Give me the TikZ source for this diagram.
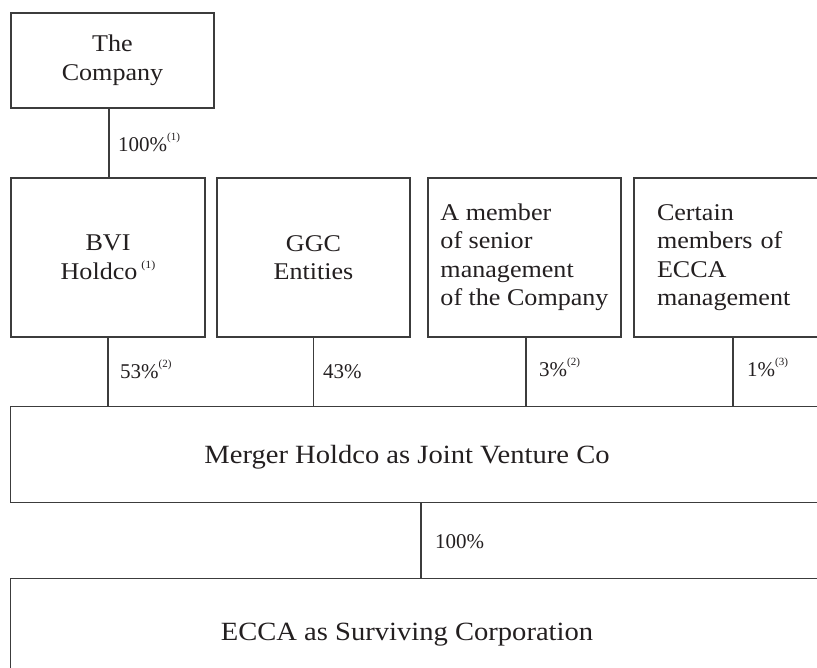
\documentclass[tikz,border=0pt]{standalone}
\usepackage{fontspec}
\setmainfont{Liberation Serif}
\newfontfamily\boxface{Liberation Serif}[FakeStretch=1.087]
\definecolor{ink}{HTML}{231F20}
\definecolor{rulec}{HTML}{3C3C3C}
\newcommand\mainfs{\boxface\fontsize{24}{28.5}\selectfont}
\newcommand\bigfs{\boxface\fontsize{26.3}{30}\selectfont}
\newcommand\pctfs{\fontsize{21}{25}\selectfont}
\newcommand\supnote[1]{\raisebox{11pt}{\fontsize{11}{11}\selectfont(#1)}}
\begin{document}
\begin{tikzpicture}[x=1pt,y=-1pt,
  box/.style={draw=rulec, line width=1.2pt, inner sep=0pt, text=ink, font=\mainfs, align=center},
  boxtext/.style={inner sep=0pt, text=ink, font=\bigfs, align=center},
  pct/.style={anchor=base west, inner sep=0pt, text=ink, font=\pctfs},
  link/.style={draw=rulec, line width=1.2pt}]
\path[use as bounding box, clip] (0,0) rectangle (817,668);

\node[box, minimum width=203, minimum height=95] (company) at (112.5,60.5) {The\\Company};
\node[box, minimum width=194, minimum height=159] (bvi) at (108,257.5) {BVI\\Holdco\,\supnote{1}};
\node[box, minimum width=193, minimum height=159] (ggc) at (313.5,257.5) {GGC\\Entities};
\node[box, minimum width=193, minimum height=159, align=left] (member) at (524.5,257.5) {A member\\of senior\\management\\of the Company};
\node[box, minimum width=206, minimum height=159, align=left, text width=160, inner xsep=23] (certain) at (737,257.5) {Certain\\members of\\ECCA\\management};

\node[boxtext, minimum width=792, minimum height=95] (merger) at (407,454.5) {};
\node[boxtext] (mergertext) at (407,457.5) {Merger Holdco as Joint Venture Co};
\draw[link] ([xshift=40]merger.north east) -- (merger.north west) -- (merger.south west) -- ([xshift=40]merger.south east);

\node[boxtext, minimum width=792, minimum height=104] (ecca) at (407,631) {};
\node[boxtext] (eccatext) at (407,634.5) {ECCA as Surviving Corporation};
\draw[link] ([xshift=40]ecca.north east) -- (ecca.north west) -- (ecca.south west);

\draw[link] ([xshift=1]bvi.north) -- ([xshift=1]bvi.north |- company.south);
\draw[link] (bvi.south) -- (bvi.south |- merger.north);
\draw[link] (ggc.south) -- (ggc.south |- merger.north);
\draw[link] ([xshift=1.5]member.south) -- ([xshift=1.5]member.south |- merger.north);
\draw[link] ([xshift=-4]certain.south) -- ([xshift=-4]certain.south |- merger.north);
\draw[link] ([xshift=14]merger.south) -- ([xshift=14]merger.south |- ecca.north);

\node[pct] (p100a) at (118,152) {100\%\supnote{1}};
\node[pct] (p53) at (120,378) {53\%\supnote{2}};
\node[pct] (p43) at (323,378) {43\%};
\node[pct] (p3) at (539,377) {3\%\supnote{2}};
\node[pct] (p1) at (747,377) {1\%\supnote{3}};
\node[pct] (p100b) at (435,548) {100\%};
\end{tikzpicture}
\end{document}
